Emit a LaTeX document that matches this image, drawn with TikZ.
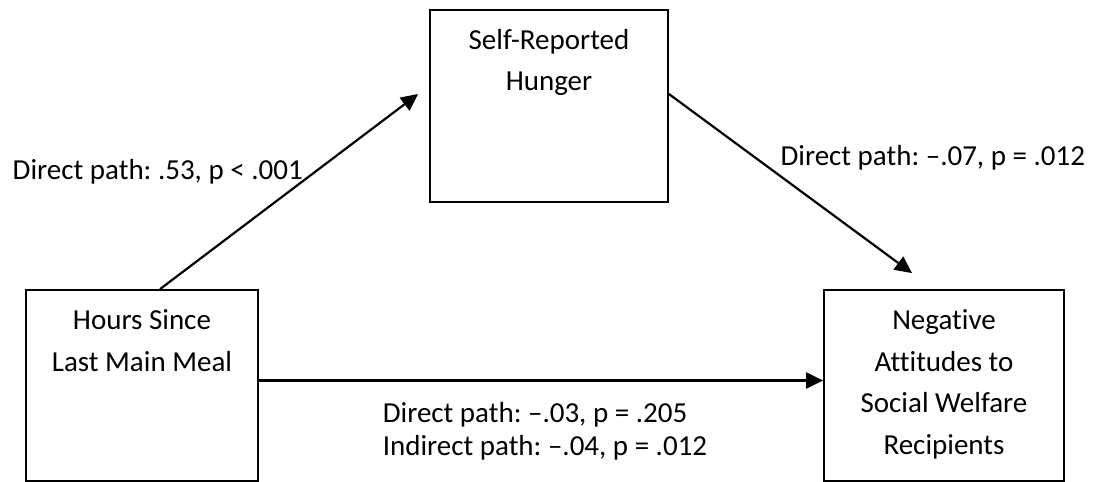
\documentclass[tikz,border=0pt]{standalone}
\usepackage{fontspec}
\setmainfont{Carlito}[Ligatures=NoCommon]
\usepackage{tikz}
\tikzstyle{block} = [rectangle, minimum width=238pt, minimum height=192pt, draw=black, line width=1.8pt]
\tikzstyle{boxtext} = [align=center, inner sep=0pt, anchor=north, font=\fontsize{29}{41.5}\selectfont]
\tikzstyle{pathtext} = [inner sep=0pt, font=\fontsize{29}{33}\selectfont]
\tikzstyle{arrow} = [line width=2.2pt,->,>={Triangle[length=17pt,width=16pt]}]
\usetikzlibrary{arrows.meta}
\frenchspacing

\begin{document}
\begin{tikzpicture}[node distance=279.5pt]
        \useasboundingbox (0,0) rectangle (1093pt,-482pt);
        \node (hunger) [block] at (549pt,-106pt) {};
        \node (hours) [block, below of=hunger, xshift=-407pt, minimum width=232pt, minimum height=191pt] {};
        \node (attitudes) [block, below of=hunger, xshift=395pt, minimum width=240pt, minimum height=191pt] {};
        \node (huntext) [boxtext, yshift=-20pt] at (hunger.north) {Self-Reported\\Hunger};
        \node (hourstext) [boxtext, yshift=-20.5pt] at (hours.north) {Hours Since\\Last Main Meal};
        \node (atttext) [boxtext, yshift=-20.5pt] at (attitudes.north) {Negative\\Attitudes to\\Social Welfare\\Recipients};
        \draw [arrow] ([xshift=18pt]hours.north) -- node[pos=0.6, left, pathtext, xshift=-11pt] (pathone) {Direct path: .53, p < .001} ([xshift=-11pt, yshift=12pt]hunger.west);
        \draw [arrow] ([yshift=12pt]hunger.east) -- node[pos=0.356, right, pathtext, xshift=24pt] (pathtwo) {Direct path: –.07, p = .012} ([xshift=-32pt, yshift=16pt]attitudes.north);
        \draw [arrow] ([yshift=5pt]hours.east) -- node[midway, below, pathtext, align=left, yshift=-21pt, xshift=4pt] (paththree) {Direct path: –.03, p = .205\\Indirect path: –.04, p = .012} ([yshift=5pt]attitudes.west);
    \end{tikzpicture}
\end{document}
